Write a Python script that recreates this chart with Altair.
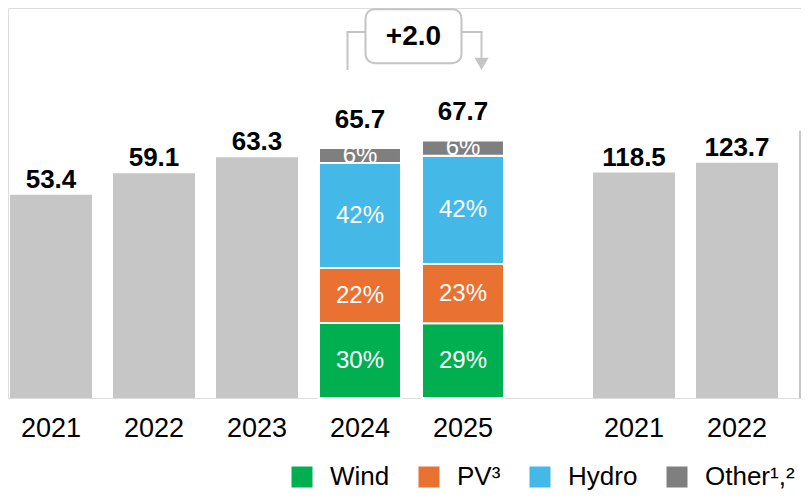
import altair as alt
import pandas as pd

# ---------------- data ----------------
left_years = ["2021", "2022", "2023", "2024", "2025"]
left_totals = [53.4, 59.1, 63.3, 65.7, 67.7]
right_years = ["2021", "2022", "2023"]
right_totals = [118.5, 123.7, 140.5]
sources = ["Wind", "PV³", "Hydro", "Other¹,²"]
source_colors = ["#00b050", "#e97132", "#44b9e8", "#7f7f7f"]
split_years = ["2024", "2025"]
shares_2024 = [30, 22, 42, 6]
shares_2025 = [29, 23, 42, 6]

FONT = "Arial, Liberation Sans, sans-serif"
GRAY = "#c6c6c6"
ANNO = "#c4c4c4"

df_left = pd.DataFrame({"year": left_years, "total": left_totals})
df_left["split"] = df_left["year"].isin(split_years)
df_right = pd.DataFrame({"year": right_years, "total": right_totals})

rows = []
for yr, shares in zip(split_years, [shares_2024, shares_2025]):
    tot = left_totals[left_years.index(yr)]
    for i, (s, p) in enumerate(zip(sources, shares)):
        rows.append({"year": yr, "source": s, "value": tot * p / 100.0,
                     "pct": f"{p}%", "order": i})
df_seg = pd.DataFrame(rows)

delta = left_totals[-1] - left_totals[-2]
df_one = pd.DataFrame({"label": [f"+{delta:.1f}"]})

# annotation levels (in left value units)
bracket_top = 96.2
bracket_left_bottom = 86.2
box_top, box_bottom = 102.2, 88.0
arrow_line_bottom = 89.4
arrow_center = 87.8
box_text_y = 94.9

# ---------------- scales ----------------
xl = alt.Scale(domain=left_years, range=[-8.5, 506.5], paddingInner=0.204, paddingOuter=0.102)
yl = alt.Scale(domain=[0, 102.5], nice=False, zero=True)
xr = alt.Scale(domain=right_years, range=[574.5, 883.5], paddingInner=0.204, paddingOuter=0.102)
yr = alt.Scale(domain=[0, 205], nice=False, zero=True)

def xaxis():
    return alt.Axis(orient="bottom", title=None, domain=False, ticks=False, tickSize=0,
                    labelFontSize=27, labelFont=FONT, labelColor="#000000",
                    labelPadding=17, labelAngle=0, grid=False)

ax_l = xaxis()
ax_r = xaxis()

# ---------------- left group ----------------
gray_l = alt.Chart(df_left).transform_filter("!datum.split").mark_bar(color=GRAY).encode(
    x=alt.X("year:N", scale=xl, axis=ax_l),
    y=alt.Y("total:Q", scale=yl, axis=None),
)

lbl_gray_l = alt.Chart(df_left).transform_filter("!datum.split").mark_text(
    font=FONT, fontSize=26, fontWeight="bold", color="#000000", baseline="alphabetic", dy=-7
).encode(
    x=alt.X("year:N", scale=xl, axis=ax_l),
    y=alt.Y("total:Q", scale=yl, axis=None),
    text=alt.Text("total:Q", format=".1f"),
)

lbl_split_l = alt.Chart(df_left).transform_filter("datum.split").mark_text(
    font=FONT, fontSize=26, fontWeight="bold", color="#000000", baseline="alphabetic", dy=-20
).encode(
    x=alt.X("year:N", scale=xl, axis=ax_l),
    y=alt.Y("total:Q", scale=yl, axis=None),
    text=alt.Text("total:Q", format=".1f"),
)

seg_base = alt.Chart(df_seg).transform_stack(
    stack="value", groupby=["year"], as_=["v0", "v1"],
    sort=[alt.SortField(field="order", order="ascending")],
)

segs = seg_base.mark_bar(stroke="white", strokeWidth=2).encode(
    x=alt.X("year:N", scale=xl, axis=ax_l),
    y=alt.Y("v0:Q", scale=yl, axis=None),
    y2="v1:Q",
    color=alt.Color(
        "source:N",
        scale=alt.Scale(domain=sources, range=source_colors),
        legend=alt.Legend(
            title=None, orient="none", legendX=281, legendY=456, direction="horizontal",
            symbolType="square", symbolSize=441, symbolStrokeWidth=0, symbolOpacity=1,
            labelFontSize=26, labelFont=FONT, labelColor="#000000", labelOffset=15,
            columnPadding=26, padding=0, labelLimit=0,
        ),
    ),
)

seg_lbl = seg_base.transform_calculate(mid="(datum.v0 + datum.v1) / 2").mark_text(
    font=FONT, fontSize=24, color="white", baseline="middle"
).encode(
    x=alt.X("year:N", scale=xl, axis=ax_l),
    y=alt.Y("mid:Q", scale=yl, axis=None),
    text="pct:N",
)

# annotation bracket
def xd(v):
    return alt.XDatum(v, type="nominal", scale=xl, axis=ax_l)

def yd(v):
    return alt.YDatum(v, type="quantitative", scale=yl, axis=None)

r_left_v = alt.Chart(df_one).mark_rule(color=ANNO, strokeWidth=2, xOffset=-12.5).encode(
    x=xd("2024"), y=yd(bracket_left_bottom), y2=alt.Y2Datum(bracket_top))
r_left_h = alt.Chart(df_one).mark_rule(color=ANNO, strokeWidth=2, xOffset=-13.5, x2Offset=6).encode(
    x=xd("2024"), x2=alt.X2Datum("2024"), y=yd(bracket_top))
r_right_h = alt.Chart(df_one).mark_rule(color=ANNO, strokeWidth=2, xOffset=-2, x2Offset=19.5).encode(
    x=xd("2025"), x2=alt.X2Datum("2025"), y=yd(bracket_top))
r_right_v = alt.Chart(df_one).mark_rule(color=ANNO, strokeWidth=2, xOffset=18.5).encode(
    x=xd("2025"), y=yd(arrow_line_bottom), y2=alt.Y2Datum(bracket_top))
arrow = alt.Chart(df_one).mark_point(shape="triangle-down", filled=True, size=200,
                                     color=ANNO, opacity=1, xOffset=18.5).encode(
    x=xd("2025"), y=yd(arrow_center))
box = alt.Chart(df_one).mark_rect(cornerRadius=9, fill="white", stroke=ANNO, strokeWidth=2,
                                  xOffset=5.5, x2Offset=-1.5).encode(
    x=alt.XDatum("2024", type="nominal", scale=xl, axis=ax_l, bandPosition=0.5),
    x2=alt.X2Datum("2025"),
    y=yd(box_top), y2=alt.Y2Datum(box_bottom))
box_txt = alt.Chart(df_one).mark_text(font=FONT, fontSize=28, fontWeight="bold",
                                      color="#000000", baseline="middle", dx=53.5).encode(
    x=xd("2024"), y=yd(box_text_y), text="label:N")

left = alt.layer(gray_l, segs, seg_lbl, lbl_gray_l, lbl_split_l,
                 r_left_v, r_left_h, r_right_h, r_right_v, arrow, box, box_txt)

# ---------------- right group ----------------
gray_r = alt.Chart(df_right).mark_bar(color=GRAY).encode(
    x=alt.X("year:N", scale=xr, axis=ax_r),
    y=alt.Y("total:Q", scale=yr, axis=None),
)
lbl_r = alt.Chart(df_right).mark_text(
    font=FONT, fontSize=26, fontWeight="bold", color="#000000", baseline="alphabetic", dy=-7
).encode(
    x=alt.X("year:N", scale=xr, axis=ax_r),
    y=alt.Y("total:Q", scale=yr, axis=None),
    text=alt.Text("total:Q", format=".1f"),
)
right = alt.layer(gray_r, lbl_r)

chart = alt.layer(left, right).resolve_scale(x="independent", y="independent").properties(
    width=793, height=390,
    padding={"left": 0, "top": 0, "right": 0, "bottom": 92},
    autosize=alt.AutoSizeParams(type="none"),
).configure_view(stroke=None).configure(background="white")

chart.save("out.html", embed_options={"renderer": "svg", "actions": False})
